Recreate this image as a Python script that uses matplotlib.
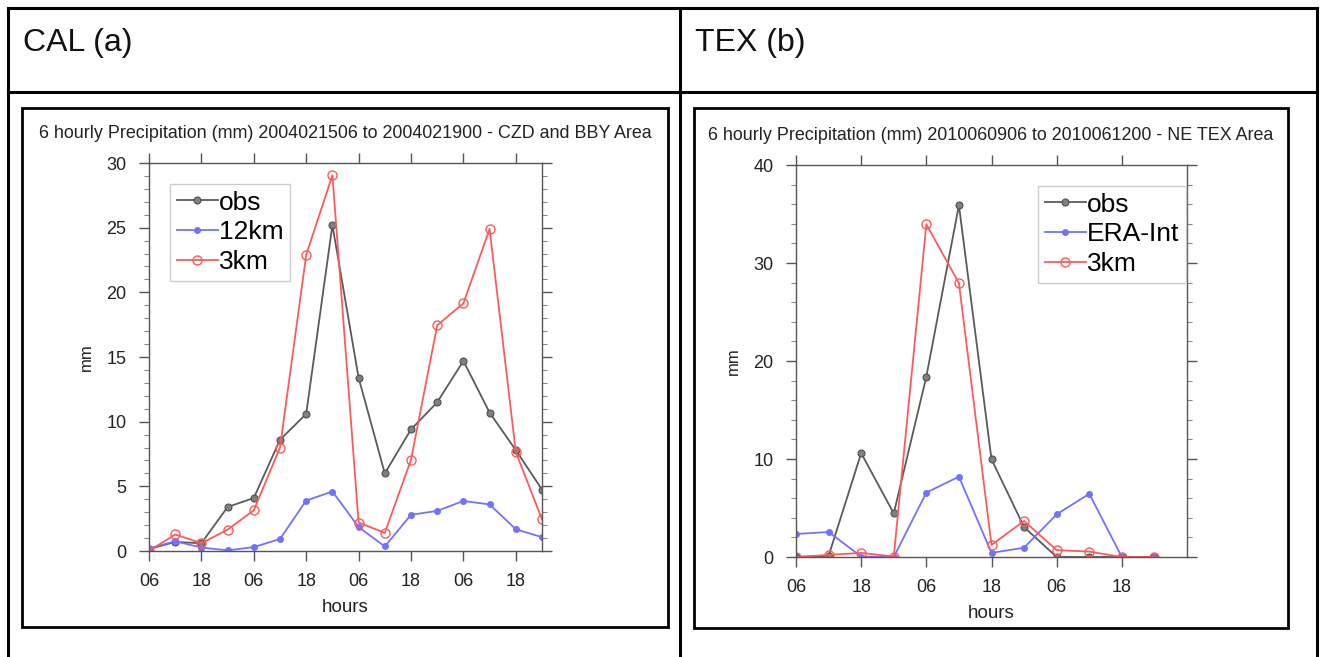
import matplotlib
matplotlib.use("Agg")
import matplotlib.pyplot as plt
from matplotlib.lines import Line2D
from matplotlib.patches import Rectangle
from matplotlib.ticker import MultipleLocator, FixedLocator

plt.rcParams['font.family'] = ['Liberation Sans', 'DejaVu Sans']

# ---------------- data ----------------
cal_tick_labels = ["06", "18", "06", "18", "06", "18", "06", "18"]
cal_obs = [0.15, 0.7, 0.6, 3.4, 4.1, 8.6, 10.6, 25.2, 13.4, 6.0, 9.4, 11.5, 14.7, 10.7, 7.8, 4.75]
cal_12km = [0.2, 0.75, 0.27, 0.05, 0.3, 0.93, 3.9, 4.6, 1.85, 0.35, 2.8, 3.1, 3.87, 3.6, 1.68, 1.07]
cal_3km = [0.0, 1.28, 0.6, 1.65, 3.15, 8.0, 22.9, 29.05, 2.2, 1.4, 7.05, 17.45, 19.15, 24.9, 7.65, 2.45]

tex_tick_labels = ["06", "18", "06", "18", "06", "18"]
tex_obs = [0.0, 0.1, 10.6, 4.45, 18.4, 35.9, 9.97, 3.05, 0.0, 0.0, 0.0, 0.0]
tex_era = [2.35, 2.55, 0.05, 0.0, 6.57, 8.2, 0.42, 0.95, 4.35, 6.45, 0.0, 0.0]
tex_3km = [0.0, 0.21, 0.42, 0.05, 33.95, 27.95, 1.23, 3.68, 0.7, 0.55, 0.0, 0.0]

cal_title = "6 hourly Precipitation (mm) 2004021506 to 2004021900 - CZD and BBY Area"
tex_title = "6 hourly Precipitation (mm) 2010060906 to 2010061200 - NE TEX Area"

# ---------------- figure ----------------
W, H = 1320, 657
fig = plt.figure(figsize=(W / 100, H / 100), dpi=100)
fig.patch.set_facecolor("white")


def fx(x):
    return x / W


def fy(y):
    return 1 - y / H


def fline(x0, y0, x1, y1, lw=2.2, color="black"):
    fig.add_artist(Line2D([fx(x0), fx(x1)], [fy(y0), fy(y1)],
                          transform=fig.transFigure, color=color, lw=lw,
                          solid_capstyle="projecting"))


# table lines
fline(8, 8, 1317, 8)
fline(8, 92, 1317, 92)
fline(8, 8, 8, 657)
fline(680, 8, 680, 657)
fline(1317, 8, 1317, 657)

fig.text(fx(23), fy(43), "CAL (a)", fontsize=23, ha="left", va="center", color="#111111")
fig.text(fx(695), fy(43), "TEX (b)", fontsize=23, ha="left", va="center", color="#111111")

# inner frames
for (x0, y0, x1, y1) in [(22, 108, 668, 627), (694, 108, 1288, 628)]:
    fig.add_artist(Rectangle((fx(x0), fy(y1)), fx(x1) - fx(x0), fy(y0) - fy(y1),
                             transform=fig.transFigure, fill=False,
                             edgecolor="black", lw=2.0))

OBS_C = "#5a5a5a"
BLUE_C = "#7272ff"
RED_C = "#ff5a5a"
AX_C = "#555555"


def make_panel(rect, series, labels, nx, ymax, ymajor, yminor, ticklabels,
               title, title_xy, leg_anchor):
    l, r, t, b = rect
    ax = fig.add_axes([fx(l), fy(b), (r - l) / W, (b - t) / H])
    x = list(range(len(series[0])))
    obs, mod1, mod2 = series
    ax.plot(x, obs, color=OBS_C, lw=1.3, marker="o", ms=5,
            mfc="#808080", mec="#505050", mew=0.8, label=labels[0])
    ax.plot(x, mod1, color=BLUE_C, lw=1.3, marker="o", ms=4,
            mfc=BLUE_C, mec=BLUE_C, label=labels[1])
    ax.plot(x, mod2, color=RED_C, lw=1.3, marker="o", ms=6.5,
            mfc="none", mec=RED_C, mew=1.0, label=labels[2])
    ax.set_xlim(0, nx)
    ax.set_ylim(0, ymax)
    ax.xaxis.set_major_locator(FixedLocator(list(range(0, 2 * len(ticklabels), 2))))
    ax.set_xticklabels(ticklabels)
    ax.yaxis.set_major_locator(MultipleLocator(ymajor))
    ax.yaxis.set_minor_locator(MultipleLocator(yminor))
    ax.tick_params(axis="both", which="major", direction="out", length=7.2,
                   width=1.0, color=AX_C, labelsize=13, pad=9,
                   labelcolor="#222222", top=True, right=True)
    ax.tick_params(axis="y", which="minor", direction="out", length=3.6,
                   width=0.8, color="#888888", left=True, right=True)
    for s in ax.spines.values():
        s.set_color(AX_C)
        s.set_linewidth(1.0)
    ax.set_xlabel("hours", fontsize=13.5, labelpad=6, color="#222222")
    ax.set_ylabel("mm", fontsize=12, labelpad=9, color="#222222")
    fig.text(fx(title_xy[0]), fy(title_xy[1]), title, fontsize=12.9,
             ha="center", va="center", color="#222222")
    leg = ax.legend(loc="upper left", bbox_to_anchor=(fx(leg_anchor[0]), fy(leg_anchor[1])),
                    bbox_transform=fig.transFigure, fontsize=19, frameon=True,
                    fancybox=False, edgecolor="#cccccc", framealpha=1,
                    handlelength=1.55, handletextpad=0.05, borderpad=0.25,
                    labelspacing=0.22, borderaxespad=0)
    leg.get_frame().set_linewidth(1.0)
    return ax


make_panel((149, 542, 163, 551), (cal_obs, cal_12km, cal_3km), ["obs", "12km", "3km"],
           15, 30, 5, 1, cal_tick_labels, cal_title, (345, 133), (170, 184))
make_panel((796, 1187, 165, 557), (tex_obs, tex_era, tex_3km), ["obs", "ERA-Int", "3km"],
           12, 40, 10, 2, tex_tick_labels, tex_title, (991, 135), (1038, 186))

fig.savefig("out.png", dpi=100, facecolor="white")
